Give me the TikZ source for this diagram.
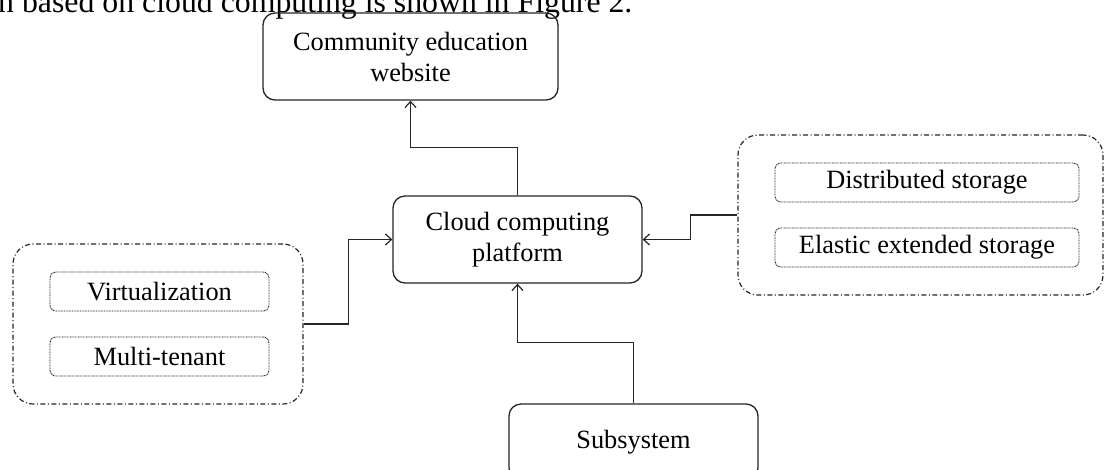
\documentclass[tikz,border=0pt]{standalone}
\usepackage{fontspec}
\setmainfont{Liberation Serif}
\usetikzlibrary{arrows.meta,calc}
\begin{document}
\begin{tikzpicture}[x=1pt,y=-1pt,
  mainbox/.style={draw=black!85, line width=1.3pt, rounded corners=12pt, align=center,
    font=\fontsize{26.35}{31}\selectfont, inner sep=0pt},
  groupbox/.style={draw=black!85, line width=1.2pt, rounded corners=20pt,
    dash pattern=on 5pt off 2.5pt on 1pt off 2.5pt, inner sep=0pt},
  itembox/.style={draw=black!85, line width=0.9pt, rounded corners=6pt,
    dash pattern=on 0.9pt off 0.7pt, minimum height=39pt, inner sep=0pt,
    font=\fontsize{26.35}{31}\selectfont},
  conn/.style={draw=black!85, line width=1.3pt, -{Straight Barb[length=6pt,width=11pt,line width=1.2pt]}}
]
\useasboundingbox (0,0) rectangle (1105,469);
\clip (0,0) rectangle (1105,469);
\fill[white] (0,0) rectangle (1105,469);

% cut-off running text at the top
\node[anchor=base west, inner sep=0pt, font=\fontsize{31.8}{36}\selectfont] (caption) at (-2,12)
  {n based on cloud computing is shown in Figure 2.};

% main boxes
\node[mainbox, minimum width=295pt, minimum height=87pt] (comm) at (410.5,56.5)
  {Community education\\website};
\node[mainbox, minimum width=249pt, minimum height=87pt] (cloud) at (517.5,239.5)
  {Cloud computing\\platform};
\node[mainbox, minimum width=249pt, minimum height=76pt] (sub) at (633.5,442)
  {Subsystem};

% left group
\node[groupbox, minimum width=290pt, minimum height=160pt] (lgroup) at (158,324) {};
\node[itembox, minimum width=219pt] (virt) at (159.5,291.5) {Virtualization};
\node[itembox, minimum width=219pt] (multi) at (159.5,356.5) {Multi-tenant};

% right group
\node[groupbox, minimum width=365pt, minimum height=160pt] (rgroup) at (920.5,215) {};
\node[itembox, minimum width=304pt] (dist) at (927,182.5) {Distributed storage};
\node[itembox, minimum width=304pt] (elastic) at (927,247.5) {Elastic extended storage};

% connectors
\draw[conn] (cloud.north) -- ++(0,-48) -| (comm.south);
\draw[conn] (lgroup.east) -- ++(45,0) |- (cloud.west);
\draw[conn] (rgroup.west) -- ++(-47,0) |- (cloud.east);
\draw[conn] (sub.north) -- ++(0,-61) -| (cloud.south);
\end{tikzpicture}
\end{document}
